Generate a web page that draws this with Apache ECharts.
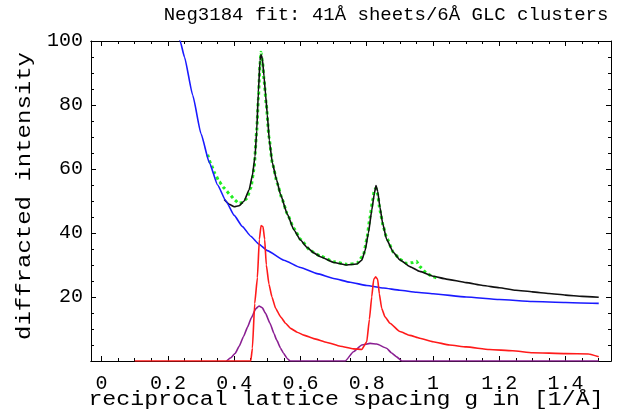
<!DOCTYPE html>
<html><head><meta charset="utf-8">
<script src="https://cdn.jsdelivr.net/npm/echarts@6/dist/echarts.min.js"></script>
<style>html,body{margin:0;padding:0;background:#fff}#c{width:644px;height:413px}</style>
</head><body><div id="c"></div>
<script>
const titleText = 'Neg3184 fit: 41Å sheets/6Å GLC clusters';
const xName = 'reciprocal lattice spacing g in [1/Å]';
const yName = 'diffracted intensity';
const xTickValues = [0, 0.2, 0.4, 0.6, 0.8, 1, 1.2, 1.4];
const xMinorTickValues = [0,0.05,0.1,0.15,0.2,0.25,0.3,0.35,0.4,0.45,0.5,0.55,0.6,0.65,0.7,0.75,0.8,0.85,0.9,0.95,1,1.05,1.1,1.15,1.2,1.25,1.3,1.35,1.4,1.45,1.5];
const yTickValues = [20, 40, 60, 80, 100];

// measured data (green)
const greenData = [[0.32,64.5],[0.33,61.5],[0.342,58.6],[0.355,56],[0.37,54],[0.388,51.9],[0.40,50.5],[0.413,49.3],[0.425,49.5],[0.438,50.8],[0.45,54],[0.46,60],[0.468,72],[0.473,82],[0.478,93],[0.481,96.5],[0.486,93],[0.49,88],[0.497,80],[0.505,70],[0.515,62],[0.53,55.5],[0.545,50.5],[0.56,46],[0.58,41.5],[0.60,38],[0.63,34.5],[0.66,32.8],[0.70,31],[0.74,30.2],[0.77,30.5],[0.79,33],[0.80,38],[0.81,45],[0.818,50.5],[0.823,53.5],[0.828,54],[0.833,52],[0.84,47],[0.85,42],[0.86,38.5],[0.88,34],[0.90,31.8],[0.92,30.5],[0.94,30.8],[0.95,31.2],[0.96,29.5],[0.98,27.5],[1.00,26.3],[1.01,26]];
// total fit (black)
const totalFit = [[0.37,50.5],[0.385,49],[0.40,48.2],[0.415,48.5],[0.43,50],[0.445,53.5],[0.455,58],[0.463,64],[0.468,72],[0.473,84],[0.478,94],[0.481,95.8],[0.485,94.5],[0.49,89],[0.495,83],[0.50,77],[0.506,69],[0.515,62],[0.528,56.6],[0.54,52],[0.56,46],[0.58,41],[0.60,37.8],[0.62,35.5],[0.64,33.8],[0.66,32.6],[0.70,30.8],[0.74,30],[0.77,30.3],[0.785,31.5],[0.795,34.5],[0.805,40],[0.815,47],[0.823,52.4],[0.828,54.8],[0.833,53],[0.84,48],[0.848,43],[0.86,38],[0.88,34],[0.90,31.6],[0.93,29.5],[0.96,28],[1.00,26.5],[1.04,25.6],[1.10,24.5],[1.15,23.6],[1.20,22.9],[1.25,22.1],[1.30,21.6],[1.35,21.1],[1.40,20.6],[1.45,20.2],[1.50,19.9]];
// background (blue)
const background = [[0.21,110],[0.237,100],[0.25,95],[0.275,83],[0.30,71],[0.325,62],[0.35,55],[0.375,50],[0.40,45.5],[0.425,42],[0.45,39],[0.475,36.5],[0.50,34.5],[0.55,31.5],[0.60,29.2],[0.65,27.3],[0.70,25.8],[0.75,24.6],[0.80,23.6],[0.85,22.8],[0.90,22.1],[0.95,21.5],[1.00,21.0],[1.10,20.0],[1.20,19.2],[1.30,18.6],[1.40,18.3],[1.50,18.0]];
// sheet peaks (red)
const sheetPeaks = [[0.10,0],[0.45,0],[0.455,4],[0.462,18],[0.47,26],[0.476,38],[0.481,42.3],[0.487,42],[0.492,38],[0.497,30],[0.505,24],[0.514,20],[0.525,16.5],[0.54,13.8],[0.555,11.8],[0.57,10.2],[0.59,9],[0.61,8.1],[0.64,7],[0.68,5.8],[0.72,4.6],[0.76,3.8],[0.785,3.6],[0.80,6],[0.808,13],[0.815,20],[0.821,25.5],[0.827,26.3],[0.833,25.5],[0.838,21],[0.845,16.5],[0.855,13.8],[0.87,11.8],[0.90,9.2],[0.93,8],[0.96,7.1],[1.00,6],[1.05,5],[1.10,4.4],[1.17,3.6],[1.24,3.2],[1.30,2.6],[1.40,2.3],[1.47,2.2],[1.50,1.3]];
// cluster peaks (purple)
const clusterPeaks = [[0.377,0],[0.39,1],[0.403,2.4],[0.415,4.6],[0.428,7.6],[0.44,10.5],[0.452,13.5],[0.465,16.3],[0.475,17.2],[0.485,16.6],[0.495,14.8],[0.508,11.8],[0.52,8.6],[0.528,6.6],[0.54,4],[0.549,2.4],[0.56,0.8],[0.569,0],[0.735,0],[0.76,2.9],[0.785,5],[0.81,5.5],[0.83,5.3],[0.86,4],[0.875,2.5],[0.89,1.3],[0.906,0],[1.50,0]];

const FONT = '"Liberation Mono", "DejaVu Sans Mono", monospace';
const X_MIN = -0.032, X_MAX = 1.537;

function xAx(pos, ticks, len, labels) {
  return {
    type: 'value', position: pos, min: X_MIN, max: X_MAX,
    axisLine: { show: true, onZero: false, lineStyle: { color: '#000', width: 1 } },
    axisTick: { show: true, inside: true, length: len, customValues: ticks, lineStyle: { color: '#000' } },
    axisLabel: { show: labels, customValues: xTickValues, margin: 13, fontFamily: FONT, fontSize: 20, color: '#000' },
    splitLine: { show: false }
  };
}
function yAx(pos, labels) {
  return {
    type: 'value', position: pos, min: 0, max: 100, interval: 20,
    axisLine: { show: true, onZero: false, lineStyle: { color: '#000', width: 1 } },
    axisTick: { show: true, inside: true, length: 5, lineStyle: { color: '#000' } },
    minorTick: { show: true, splitNumber: 4, length: 3, lineStyle: { color: '#000' } },
    axisLabel: { show: labels, customValues: yTickValues, margin: 8, fontFamily: FONT, fontSize: 20, color: '#000' },
    splitLine: { show: false }, minorSplitLine: { show: false }
  };
}
function line(data, color, width, extra) {
  return Object.assign({
    type: 'line', data: data, xAxisIndex: 0, yAxisIndex: 0,
    showSymbol: false, symbol: 'none', smooth: 0.15, smoothMonotone: 'x',
    lineStyle: { color: color, width: width }, itemStyle: { color: color }, clip: true
  }, extra || {});
}

const chart = echarts.init(document.getElementById('c'), null, { renderer: 'canvas' });
chart.setOption({
  animation: false,
  backgroundColor: '#fff',
  grid: { left: 91, top: 41, width: 520, height: 320, containLabel: false },
  xAxis: [xAx('bottom', xTickValues, 5, true), xAx('bottom', xMinorTickValues, 3, false),
          xAx('top', xTickValues, 5, false), xAx('top', xMinorTickValues, 3, false)],
  yAxis: [yAx('left', true), yAx('right', false)],
  graphic: [
    { type: 'text', x: 386, y: 15, style: { text: titleText, font: '19px ' + FONT, fill: '#000', align: 'center', verticalAlign: 'middle' } },
    { type: 'text', x: 346, y: 400, scaleX: 1.16, style: { text: xName, font: '20px ' + FONT, fill: '#000', align: 'center', verticalAlign: 'middle' } },
    { type: 'text', x: 25, y: 196, rotation: Math.PI / 2, scaleX: 1.2, style: { text: yName, font: '20px ' + FONT, fill: '#000', align: 'center', verticalAlign: 'middle' } }
  ],
  series: [
    line(greenData, '#22ee22', 3, { lineStyle: { color: '#22ee22', width: 3, type: [3, 3] } }),
    line(totalFit, '#111111', 1.6),
    line(background, '#1a1aff', 1.6),
    line(clusterPeaks, '#8a1f92', 1.6),
    line(sheetPeaks, '#ff1a1a', 1.6)
  ]
});
</script></body></html>
